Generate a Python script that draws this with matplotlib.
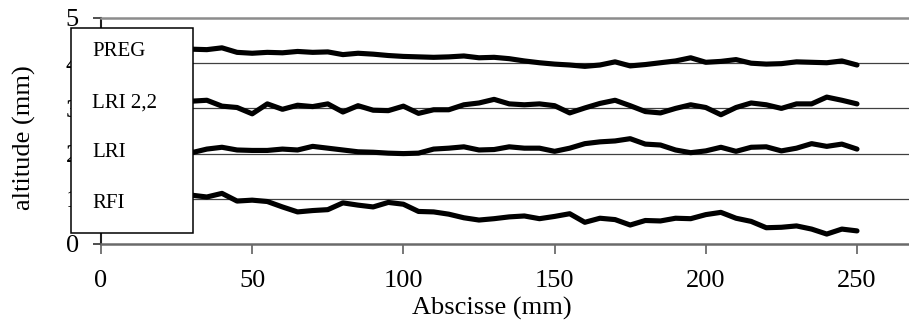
import matplotlib
matplotlib.use("Agg")
import matplotlib.pyplot as plt
from matplotlib.patches import Rectangle

x = list(range(30, 251, 5))

preg = [4.31, 4.30, 4.34, 4.24, 4.22, 4.24, 4.23, 4.26, 4.24, 4.25,
        4.19, 4.22, 4.20, 4.17, 4.15, 4.14, 4.13, 4.14, 4.16, 4.12,
        4.13, 4.10, 4.05, 4.01, 3.98, 3.96, 3.93, 3.96, 4.03, 3.94,
        3.97, 4.01, 4.05, 4.12, 4.02, 4.04, 4.08, 4.00, 3.98, 3.99,
        4.03, 4.02, 4.01, 4.05, 3.96]

lri22 = [3.16, 3.18, 3.05, 3.02, 2.88, 3.10, 2.98, 3.07, 3.04, 3.10,
         2.92, 3.06, 2.96, 2.95, 3.05, 2.89, 2.97, 2.97, 3.08, 3.12,
         3.20, 3.10, 3.08, 3.10, 3.06, 2.90, 3.01, 3.11, 3.18, 3.06,
         2.93, 2.90, 3.00, 3.08, 3.02, 2.86, 3.02, 3.12, 3.08, 3.00,
         3.10, 3.10, 3.25, 3.18, 3.10]

lri = [2.02, 2.10, 2.14, 2.08, 2.07, 2.07, 2.10, 2.08, 2.16, 2.12,
       2.08, 2.04, 2.03, 2.01, 2.00, 2.01, 2.10, 2.12, 2.15, 2.08,
       2.09, 2.15, 2.12, 2.12, 2.05, 2.12, 2.22, 2.26, 2.28, 2.33,
       2.21, 2.19, 2.08, 2.02, 2.06, 2.14, 2.05, 2.14, 2.15, 2.06,
       2.12, 2.22, 2.16, 2.21, 2.10]

rfi = [1.08, 1.04, 1.12, 0.95, 0.97, 0.94, 0.82, 0.71, 0.74, 0.76,
       0.91, 0.86, 0.82, 0.92, 0.88, 0.72, 0.71, 0.66, 0.58, 0.53,
       0.56, 0.60, 0.62, 0.56, 0.61, 0.67, 0.48, 0.57, 0.54, 0.42,
       0.52, 0.51, 0.57, 0.56, 0.65, 0.70, 0.57, 0.50, 0.36, 0.37,
       0.40, 0.33, 0.22, 0.33, 0.29]

series_names = ["PREG", "LRI 2,2", "LRI", "RFI"]
series = [preg, lri22, lri, rfi]

x_ticks = [0, 50, 100, 150, 200, 250]
y_ticks = [0, 1, 2, 3, 4, 5]

plt.rcParams['font.family'] = ['Liberation Serif', 'DejaVu Serif']

fig = plt.figure(figsize=(9.09, 3.22), dpi=100)
ax = fig.add_axes([101/909, 1-244/322, 808/909, 226/322])

for ys in series:
    ax.plot(x, ys, color='black', lw=3.7, solid_joinstyle='round',
            solid_capstyle='round', zorder=3)

ax.set_xlim(0, 267.2)
ax.set_ylim(0, 5)
ax.set_xticks(x_ticks)
ax.set_yticks(y_ticks)
ax.tick_params(axis='both', labelsize=19, direction='out')
ax.tick_params(axis='x', length=7, width=1.2, color='#606060', pad=12)
ax.tick_params(axis='y', length=6, width=1.2, color='#303030', pad=10)

for yv in [1, 2, 3, 4]:
    ax.axhline(yv, color='#404040', lw=0.9, zorder=1)

ax.spines['right'].set_visible(False)
ax.spines['top'].set_color('#8c8c8c')
ax.spines['top'].set_linewidth(1.8)
ax.spines['bottom'].set_color('#6a6a6a')
ax.spines['bottom'].set_linewidth(1.8)
ax.spines['left'].set_color('#202020')
ax.spines['left'].set_linewidth(1.5)

ax.set_xlabel('Abscisse (mm)', fontsize=19, va='center')
ax.xaxis.set_label_coords(0.484, -0.283)
ax.set_ylabel('altitude (mm)', fontsize=19, va='center')
ax.yaxis.set_label_coords(-0.095, 0.471)

# legend box (text only)
rect = Rectangle((-0.0371, 0.0487), 0.151, 0.907, transform=ax.transAxes,
                 facecolor='white', edgecolor='black', lw=1.1,
                 clip_on=False, zorder=10)
ax.add_patch(rect)
ypos = [0.851, 0.624, 0.403, 0.181]
for name, yp in zip(series_names, ypos):
    ax.text(-0.0111, yp, name, transform=ax.transAxes, fontsize=15,
            ha='left', va='center', zorder=11, clip_on=False)

fig.savefig('out.png', dpi=100)
